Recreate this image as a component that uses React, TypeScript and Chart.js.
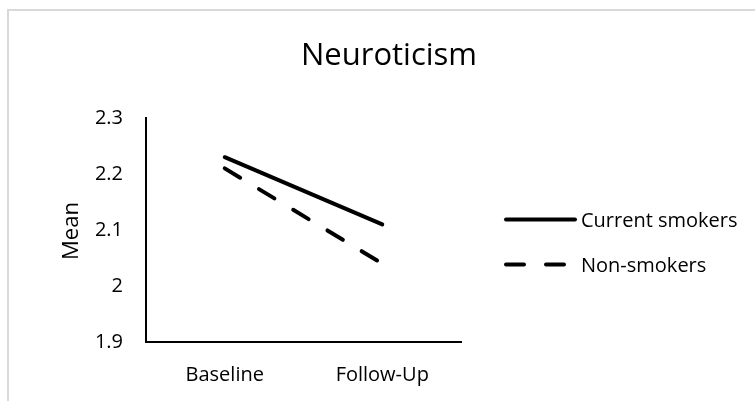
import React, { useEffect, useRef } from "react";
import { Chart, registerables } from "chart.js";

Chart.register(...registerables);

const categories = ["Baseline", "Follow-Up"];
const currentSmokers = [2.23, 2.11];
const nonSmokers = [2.21, 2.04];
const seriesLabels = ["Current smokers", "Non-smokers"];
const yMin = 1.9;
const yMax = 2.3;
const yStep = 0.1;
const chartTitle = "Neuroticism";
const yAxisTitle = "Mean";

const FONT = "'Open Sans', 'Noto Sans', sans-serif";
const W = 755;
const H = 401;

export default function App() {
  const ref = useRef<HTMLCanvasElement>(null);

  useEffect(() => {
    if (!ref.current) return;

    const decor = {
      id: "decor",
      beforeDraw(chart: any) {
        const ctx = chart.ctx;
        ctx.save();
        ctx.fillStyle = "#ffffff";
        ctx.fillRect(0, 0, chart.width, chart.height);
        ctx.strokeStyle = "#d9d9d9";
        ctx.lineWidth = 2;
        ctx.strokeRect(8, 10, chart.width + 40, chart.height + 40);
        ctx.restore();
      },
      afterDraw(chart: any) {
        const ctx = chart.ctx;
        ctx.save();
        ctx.fillStyle = "#000000";
        // title
        ctx.font = `31px ${FONT}`;
        ctx.textAlign = "center";
        ctx.textBaseline = "alphabetic";
        ctx.fillText(chartTitle, 389, 65);
        // y axis title
        ctx.save();
        ctx.translate(78, 231);
        ctx.rotate(-Math.PI / 2);
        ctx.font = `22px ${FONT}`;
        ctx.textAlign = "center";
        ctx.fillText(yAxisTitle, 0, 0);
        ctx.restore();
        // legend
        const legendYs = [219.5, 264.5];
        chart.data.datasets.forEach((ds: any, i: number) => {
          const y = legendYs[i];
          ctx.save();
          ctx.strokeStyle = ds.borderColor;
          ctx.lineWidth = ds.borderWidth;
          ctx.lineCap = "round";
          ctx.setLineDash(ds.borderDash || []);
          ctx.beginPath();
          ctx.moveTo(506, y);
          ctx.lineTo(575, y);
          ctx.stroke();
          ctx.restore();
          ctx.font = `20px ${FONT}`;
          ctx.textAlign = "left";
          ctx.textBaseline = "alphabetic";
          ctx.fillStyle = "#000000";
          ctx.fillText(ds.label, 581, y + 7);
        });
        ctx.restore();
      },
    };

    const chart = new Chart(ref.current, {
      type: "line",
      data: {
        labels: categories,
        datasets: [
          {
            label: seriesLabels[0],
            data: currentSmokers,
            borderColor: "#000000",
            backgroundColor: "#000000",
            borderWidth: 4,
            borderCapStyle: "round",
            pointRadius: 0,
            pointHoverRadius: 0,
            tension: 0,
          },
          {
            label: seriesLabels[1],
            data: nonSmokers,
            borderColor: "#000000",
            backgroundColor: "#000000",
            borderWidth: 4,
            borderCapStyle: "round",
            borderDash: [18, 22],
            pointRadius: 0,
            pointHoverRadius: 0,
            tension: 0,
          },
        ],
      },
      options: {
        responsive: false,
        animation: false,
        events: [],
        layout: { padding: { top: 118, left: 0, right: W - 461, bottom: 0 } },
        plugins: {
          legend: { display: false },
          title: { display: false },
          tooltip: { enabled: false },
        },
        scales: {
          x: {
            offset: true,
            grid: { display: false, drawTicks: false },
            border: { display: true, color: "#000000", width: 2 },
            ticks: {
              font: { family: FONT, size: 20 },
              color: "#000000",
              padding: 21,
              maxRotation: 0,
            },
            afterFit: (scale: any) => {
              scale.height = H - 342;
            },
          },
          y: {
            min: yMin,
            max: yMax,
            grid: { display: false, drawTicks: false },
            border: { display: true, color: "#000000", width: 2 },
            ticks: {
              stepSize: yStep,
              font: { family: FONT, size: 20 },
              color: "#000000",
              padding: 23,
              callback: (v: any) => String(Number(Number(v).toFixed(1))),
            },
            afterFit: (scale: any) => {
              scale.width = 146;
            },
          },
        },
      },
      plugins: [decor],
    });

    return () => chart.destroy();
  }, []);

  return (
    <div style={{ position: "fixed", left: 0, top: 0, width: W, height: H, background: "#fff" }}>
      <canvas ref={ref} width={W} height={H} style={{ display: "block" }} />
    </div>
  );
}
